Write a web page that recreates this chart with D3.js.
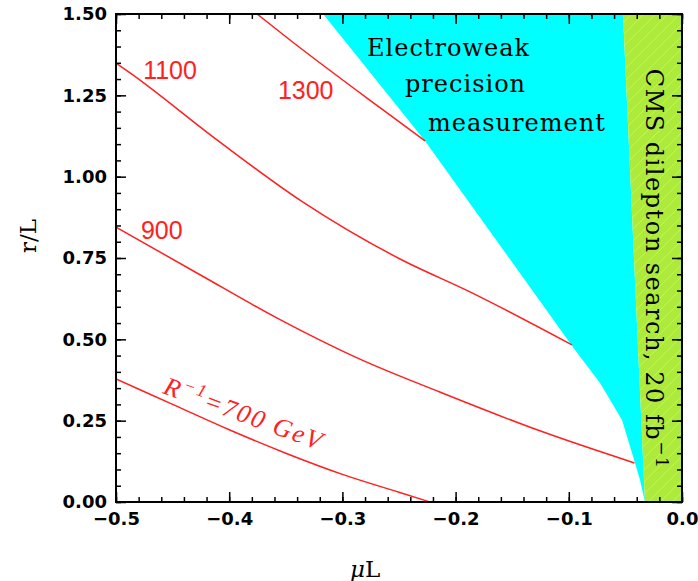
<!DOCTYPE html>
<html>
<head>
<meta charset="utf-8">
<script src="https://cdn.jsdelivr.net/npm/d3@7"></script>
<style>
  body { margin: 0; background: #fff; }
  .tick text { font-family: "DejaVu Sans", sans-serif; font-weight: bold; font-size: 18px; fill: #000; }
</style>
</head>
<body>
<div id="chart"></div>
<script>
// chart dimensions
const margin = {top: 14, right: 16, bottom: 79, left: 116},
    width = 698 - margin.left - margin.right,
    height = 581 - margin.top - margin.bottom;

// axis ticks
const xTicks = [-0.5, -0.4, -0.3, -0.2, -0.1, 0.0];
const yTicks = [0.00, 0.25, 0.50, 0.75, 1.00, 1.25, 1.50];

// contours of constant R^-1 (muL, r/L)
const mu700 = [-0.5, -0.45, -0.4, -0.35, -0.3, -0.25, -0.2226];
const r700  = [0.378, 0.300, 0.222, 0.150, 0.085, 0.030, 0.0];

const mu900 = [-0.5, -0.425, -0.358, -0.287, -0.214, -0.125, -0.042];
const r900  = [0.845, 0.697, 0.566, 0.443, 0.338, 0.218, 0.120];

const mu1100 = [-0.5, -0.4876, -0.4108, -0.3375, -0.2491, -0.1873, -0.0972];
const r1100  = [1.349, 1.319, 1.113, 0.928, 0.747, 0.646, 0.483];

const mu1300 = [-0.3754, -0.3463, -0.2668, -0.227];
const r1300  = [1.5, 1.420, 1.212, 1.110];

// electroweak precision excluded region, boundary
const ewMu = [-0.317, -0.227, -0.0963, -0.0724, -0.053, -0.0415, -0.0371, -0.0327, -0.0521];
const ewR  = [1.5, 1.110, 0.476, 0.366, 0.252, 0.120, 0.068, 0.0, 1.5];

// CMS dilepton region
const cmsMu = [-0.0521, 0.0, 0.0, -0.0327];
const cmsR  = [1.5, 1.5, 0.0, 0.0];

const zip = (a, b) => a.map((d, i) => [d, b[i]]);

const svg = d3.select("#chart").append("svg")
    .attr("width", width + margin.left + margin.right)
    .attr("height", height + margin.top + margin.bottom);

const defs = svg.append("defs");
const pat = defs.append("pattern")
    .attr("id", "hatch")
    .attr("patternUnits", "userSpaceOnUse")
    .attr("width", 12).attr("height", 12);
pat.append("rect").attr("width", 12).attr("height", 12).attr("fill", "#aeea3c");
pat.append("path").attr("d", "M-1,13 L13,-1").attr("stroke", "#e2ee2c").attr("stroke-width", 1);

defs.append("clipPath").attr("id", "clip")
    .append("rect").attr("width", width).attr("height", height);

const g = svg.append("g")
    .attr("transform", "translate(" + margin.left + "," + margin.top + ")");

const x = d3.scaleLinear().domain([-0.5, 0]).range([0, width]);
const y = d3.scaleLinear().domain([0, 1.5]).range([height, 0]);

const area = d3.line().x(d => x(d[0])).y(d => y(d[1]));
const curve = d3.line().x(d => x(d[0])).y(d => y(d[1])).curve(d3.curveMonotoneX);

const plot = g.append("g").attr("clip-path", "url(#clip)");

plot.append("path")
    .attr("d", area(zip(ewMu, ewR)) + "Z")
    .attr("fill", "#00ffff");

plot.append("path")
    .attr("d", area(zip(cmsMu, cmsR)) + "Z")
    .attr("fill", "url(#hatch)");

[[mu700, r700], [mu900, r900], [mu1100, r1100], [mu1300, r1300]].forEach(c => {
    plot.append("path")
        .attr("d", curve(zip(c[0], c[1])))
        .attr("fill", "none")
        .attr("stroke", "#ff2020")
        .attr("stroke-width", 1.5);
});

// contour labels
[["1100", -0.476, 1.300], ["1300", -0.357, 1.239], ["900", -0.478, 0.808]].forEach(l => {
    g.append("text")
        .attr("x", x(l[1])).attr("y", y(l[2]))
        .attr("fill", "#ff2020")
        .style("font", "25px 'Liberation Sans', sans-serif")
        .text(l[0]);
});

const rLab = g.append("text")
    .attr("transform", "translate(" + x(-0.4594) + "," + y(0.335) + ") rotate(20)")
    .attr("fill", "#ff2020")
    .style("font", "italic 26px 'Liberation Serif', serif")
    .style("letter-spacing", "2px");
rLab.append("tspan").text("R");
rLab.append("tspan").attr("dy", -10).style("font-size", "18px").text("−1");
rLab.append("tspan").attr("dy", 10).text("=700 GeV");

// region labels
[["Electroweak", 367, 56], ["precision", 405, 92], ["measurement", 428, 131]].forEach(l => {
    svg.append("text")
        .attr("x", l[1]).attr("y", l[2])
        .style("font", "24px 'DejaVu Serif', serif")
        .style("letter-spacing", "1px")
        .text(l[0]);
});

const cms = svg.append("text")
    .attr("transform", "translate(646,269) rotate(90)")
    .attr("text-anchor", "middle")
    .style("font", "24px 'DejaVu Serif', serif")
    .style("letter-spacing", "1.5px");
cms.append("tspan").text("CMS dilepton search, 20 fb");
cms.append("tspan").attr("dy", -10).style("font-size", "17px").text("−1");

// axes: major and minor ticks, inward on all four sides
const xMinor = d3.range(-0.5, 0.0001, 0.02);
const yMinor = d3.range(0, 1.5001, 0.05);

g.append("g").attr("transform", "translate(0," + height + ")")
    .call(d3.axisBottom(x).tickValues(xTicks).tickFormat(d3.format(".1f")).tickSize(-10).tickPadding(10));
g.append("g").attr("transform", "translate(0," + height + ")")
    .call(d3.axisBottom(x).tickValues(xMinor).tickFormat("").tickSize(-5));
g.append("g")
    .call(d3.axisTop(x).tickValues(xTicks).tickFormat("").tickSize(-10));
g.append("g")
    .call(d3.axisTop(x).tickValues(xMinor).tickFormat("").tickSize(-5));

g.append("g")
    .call(d3.axisLeft(y).tickValues(yTicks).tickFormat(d3.format(".2f")).tickSize(-10).tickPadding(9));
g.append("g")
    .call(d3.axisLeft(y).tickValues(yMinor).tickFormat("").tickSize(-5));
g.append("g").attr("transform", "translate(" + width + ",0)")
    .call(d3.axisRight(y).tickValues(yTicks).tickFormat("").tickSize(-10));
g.append("g").attr("transform", "translate(" + width + ",0)")
    .call(d3.axisRight(y).tickValues(yMinor).tickFormat("").tickSize(-5));

g.selectAll(".domain").remove();
g.selectAll(".tick line").attr("stroke", "#000").attr("stroke-width", 1.5);

g.append("rect")
    .attr("width", width).attr("height", height)
    .attr("fill", "none").attr("stroke", "#000").attr("stroke-width", 2);

// axis titles
svg.append("text")
    .attr("x", margin.left + x(-0.28)).attr("y", 577)
    .attr("text-anchor", "middle")
    .style("font", "23px 'DejaVu Serif', serif")
    .html("<tspan font-style='italic'>μ</tspan>L");

svg.append("text")
    .attr("transform", "translate(36,236) rotate(-90)")
    .attr("text-anchor", "middle")
    .style("font", "23px 'DejaVu Serif', serif")
    .text("r/L");
</script>
</body>
</html>
